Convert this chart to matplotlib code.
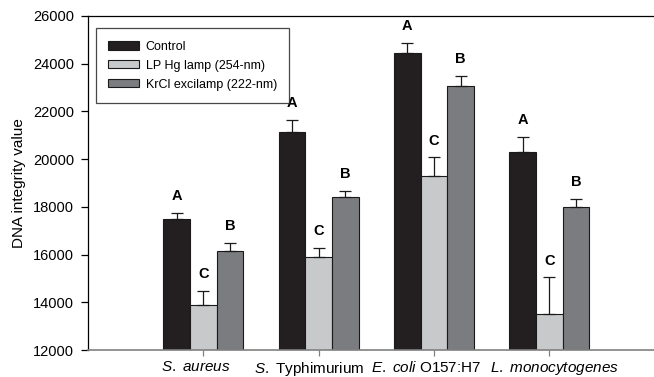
import numpy as np
import matplotlib.pyplot as plt
from matplotlib.transforms import ScaledTranslation

plt.rcParams['font.family'] = 'Liberation Sans'
plt.rcParams['mathtext.fontset'] = 'custom'
plt.rcParams['mathtext.rm'] = 'Liberation Sans'
plt.rcParams['mathtext.it'] = 'Liberation Sans:italic'

bacteria = [r'$\it{S.\ aureus}$', r'$\it{S.}$ Typhimurium',
            r'$\it{E.\ coli}$ O157:H7', r'$\it{L.\ monocytogenes}$']
series = ['Control', 'LP Hg lamp (254-nm)', 'KrCl excilamp (222-nm)']
control = [17470, 21150, 24440, 20290]
control_err = [280, 490, 420, 650]
lphg = [13880, 15880, 19310, 13500]
lphg_err = [600, 390, 770, 1550]
krcl = [16160, 18430, 23070, 17980]
krcl_err = [340, 240, 420, 340]
letters = ['A', 'C', 'B']

colors = ['#231f20', '#c8c9cb', '#7b7c80']

fig = plt.figure(figsize=(6.54, 3.77), dpi=100)
ax = fig.add_axes([0.1346, 0.0716, 0.8815, 0.886])

x = np.arange(1, len(bacteria) + 1)
w = 0.231
data = [(control, control_err), (lphg, lphg_err), (krcl, krcl_err)]
for i, (vals, errs) in enumerate(data):
    pos = x + (i - 1) * w
    ax.bar(pos, vals, width=w, color=colors[i], edgecolor='#1a1a1a',
           linewidth=0.8, label=series[i], zorder=2)
    ax.errorbar(pos, vals, yerr=[np.zeros(len(errs)), errs], fmt='none',
                ecolor='#1a1a1a', elinewidth=0.9, capsize=4.5, capthick=0.9,
                zorder=3)
    for p, v, e in zip(pos, vals, errs):
        ax.annotate(letters[i], (p, v + e), xytext=(0, 7), textcoords='offset points',
                    ha='center', va='bottom', fontsize=10.5, fontweight='bold')

ax.set_xlim(0, 5)
ax.set_ylim(12000, 26000)
ax.set_yticks(np.arange(12000, 26001, 2000))
ax.set_xticks(x)
ax.set_xticklabels(bacteria, fontsize=11)
ax.tick_params(axis='y', labelsize=10.5, length=5, width=0.9, pad=5)
ax.tick_params(axis='x', length=4, width=0.9, color='#808080', pad=3.5)
ax.set_ylabel('DNA integrity value', fontsize=11, labelpad=5)

# labels in the original sit a bit off their ticks
shifts = [-8, -10, -8, 5]
for lbl, dx in zip(ax.get_xticklabels(), shifts):
    lbl.set_transform(lbl.get_transform() + ScaledTranslation(dx / 100, 0, fig.dpi_scale_trans))

ax.spines['right'].set_visible(False)
ax.spines['bottom'].set_color('#808080')
ax.spines['bottom'].set_linewidth(1.2)
ax.spines['left'].set_linewidth(0.9)
ax.spines['top'].set_linewidth(0.9)

leg = ax.legend(loc='upper left', bbox_to_anchor=(0.013, 0.963), fontsize=9,
                frameon=True, fancybox=False, edgecolor='#1a1a1a',
                handlelength=2.5, handleheight=0.65, handletextpad=0.5,
                labelspacing=0.55, borderpad=1.0, borderaxespad=0)
leg.get_frame().set_linewidth(0.9)

fig.savefig('out.png', dpi=100)
